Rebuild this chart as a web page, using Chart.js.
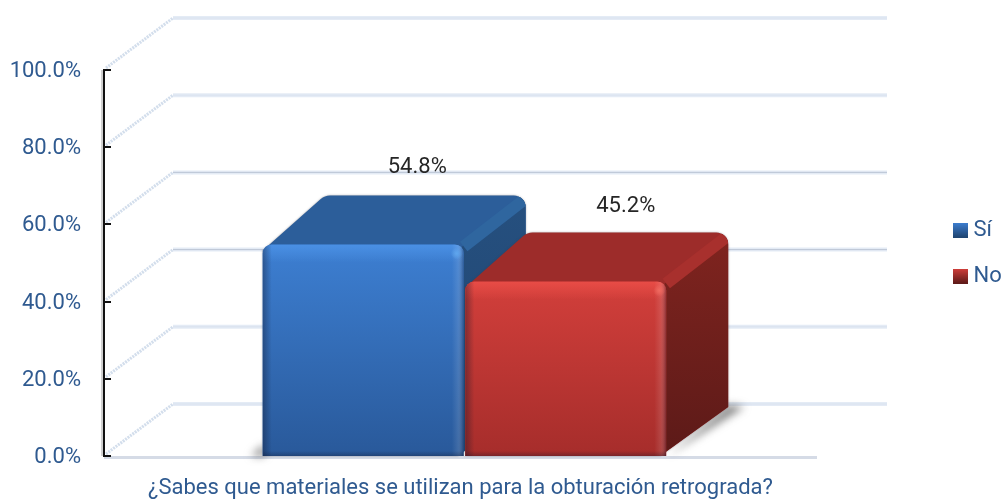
<!DOCTYPE html>
<html>
<head>
<meta charset="utf-8">
<script src="https://cdn.jsdelivr.net/npm/chart.js@4/dist/chart.umd.js"></script>
<style>
  html, body { margin: 0; padding: 0; background: #fff; }
  canvas { display: block; }
</style>
</head>
<body>
<canvas id="barChart" width="1001" height="500"></canvas>
<script>
const categories = ['¿Sabes que materiales se utilizan para la obturación retrograda?'];
const seriesNames = ['Sí', 'No'];
const siValues = [54.8];
const noValues = [45.2];
const tickValues = [0, 20, 40, 60, 80, 100];

const textBlue = '#2f5a90';
const fontName = 'Roboto, "Open Sans", sans-serif';

const faces = [
  { front: ['#3d7fd2', '#29599a'], top: '#2c5e9a', ridge: '#2f669f', side: ['#26507f', '#1f4470'], rim: '#4a90e4', hot: '#5fa6ee', label: [54, -77] },
  { front: ['#d23f3b', '#a62d2b'], top: '#9d2c2a', ridge: '#a8302d', side: ['#80241f', '#5c1a18'], rim: '#e84c46', hot: '#f06a60', label: [60, -75] }
];

// 3d depth of the box and of the back wall
const barDepth = { x: 62, y: 49 };
const wallDepth = { x: 69, y: 52 };
const wallLength = 714;
const floorLength = 713;

function polyPath(c, pts, radii) {
  const n = pts.length;
  c.beginPath();
  c.moveTo((pts[0][0] + pts[n - 1][0]) / 2, (pts[0][1] + pts[n - 1][1]) / 2);
  for (let i = 0; i < n; i++) {
    const next = pts[(i + 1) % n];
    c.arcTo(pts[i][0], pts[i][1], next[0], next[1], radii[i]);
  }
  c.closePath();
}

function flatPoly(c, pts) {
  c.beginPath();
  pts.forEach((p, i) => (i ? c.lineTo(p[0], p[1]) : c.moveTo(p[0], p[1])));
  c.closePath();
}

function vGrad(c, y0, y1, a, b) {
  const g = c.createLinearGradient(0, y0, 0, y1);
  g.addColorStop(0, a);
  g.addColorStop(1, b);
  return g;
}

function hGrad(c, x0, x1, a, b) {
  const g = c.createLinearGradient(x0, 0, x1, 0);
  g.addColorStop(0, a);
  g.addColorStop(1, b);
  return g;
}

function legendSwatch(face) {
  const cv = document.createElement('canvas');
  cv.width = 15;
  cv.height = 15;
  const c = cv.getContext('2d');
  c.fillStyle = vGrad(c, 0, 15, face.front[0], face.side[1]);
  c.fillRect(0, 0, 15, 15);
  return cv;
}

const wallPlugin = {
  id: 'wall',
  beforeLayout(chart) {
    // keep room between the plot and the legend
    const l = chart.legend;
    if (!l._wideFit) {
      const fit = l.fit;
      l.fit = function () { fit.call(this); this.width = 176; };
      l._wideFit = true;
    }
  },
  afterLayout(chart) {
    const l = chart.legend;
    l.left = 934.5;
    l.right = 1001;
    l.top = 195;
    l.bottom = 500;
  },
  beforeDraw(chart) {
    // roboto sits a little high on the middle baseline
    chart.scales.y.getLabelItems().forEach(item => {
      if (!item._moved) {
        item.options.translation[1] += 1.5;
        item._moved = true;
      }
    });
  },
  beforeDatasetsDraw(chart) {
    const c = chart.ctx;
    const area = chart.chartArea;
    const y = chart.scales.y;
    c.save();

    tickValues.forEach(v => {
      const py = y.getPixelForValue(v);
      const bx = area.left + wallDepth.x;
      const by = py - wallDepth.y;
      const grey = v === 40 || v === 60;
      c.strokeStyle = '#d3deec';
      c.lineWidth = 3;
      c.setLineDash([2, 1]);
      c.beginPath();
      c.moveTo(area.left + 2, py - 2);
      c.lineTo(bx, by);
      c.stroke();
      c.setLineDash([]);
      c.strokeStyle = '#e4ebf5';
      c.lineWidth = 4;
      c.beginPath();
      c.moveTo(bx, by);
      c.lineTo(bx + wallLength, by);
      c.stroke();
      c.strokeStyle = grey ? '#bcc6d6' : '#d9e2ef';
      c.lineWidth = 1;
      c.beginPath();
      c.moveTo(bx, by);
      c.lineTo(bx + wallLength, by);
      c.stroke();
    });

    // floor front edge
    const fy = y.getPixelForValue(0);
    c.fillStyle = '#d5dbe6';
    c.fillRect(area.left, fy, floorLength, 3);

    // box side and top, blue first so that red covers it
    chart.data.datasets.forEach((ds, di) => {
      chart.getDatasetMeta(di).data.forEach(el => {
        const face = faces[di];
        const x0 = el.x - el.width / 2;
        const x1 = el.x + el.width / 2;
        const dx = barDepth.x;
        const dy = barDepth.y;

        // floor shadow
        c.save();
        c.filter = 'blur(4px)';
        c.fillStyle = 'rgba(90,90,90,0.75)';
        c.beginPath();
        if (di === 0) {
          c.moveTo(x0 + 2, el.base);
          c.lineTo(x0 - 12, el.base);
          c.lineTo(x0 + 2, el.base - 12);
        } else {
          c.moveTo(x1 + 2, el.base - 1);
          c.lineTo(x1 + dx + 16, el.base - dy);
          c.lineTo(x1 + dx, el.base - dy - 2);
        }
        c.closePath();
        c.fill();
        c.restore();

        // whole outline of the box, rounded at the back corners
        const outline = [[x0, el.y + 6], [x0 + dx, el.y - dy], [x1 + dx, el.y - dy], [x1 + dx, el.base - dy], [x1 - 6, el.base], [x0, el.base]];
        const radii = [0, 14, 12, 0, 0, 0];
        polyPath(c, outline, radii);
        c.save();
        c.fillStyle = face.top;
        c.shadowColor = 'rgba(60,60,70,0.5)';
        c.shadowBlur = 2;
        c.fill();
        c.restore();

        c.save();
        polyPath(c, outline, radii);
        c.clip();
        c.fillStyle = vGrad(c, el.y - dy, el.base, face.side[0], face.side[1]);
        flatPoly(c, [[x1 - 6, el.y + 6], [x1 + dx, el.y - dy - 5], [x1 + dx, el.base - dy], [x1 - 6, el.base]]);
        c.fill();

        // ridge between top and side
        c.strokeStyle = face.ridge;
        c.lineWidth = 12;
        c.beginPath();
        c.moveTo(x1, el.y + 2);
        c.lineTo(x1 + dx, el.y - dy + 3);
        c.stroke();
        c.restore();
      });
    });
    c.restore();
  },
  afterDatasetsDraw(chart) {
    const c = chart.ctx;
    const area = chart.chartArea;
    const y = chart.scales.y;
    c.save();

    chart.data.datasets.forEach((ds, di) => {
      chart.getDatasetMeta(di).data.forEach((el, i) => {
        const face = faces[di];
        const x0 = el.x - el.width / 2;
        const x1 = el.x + el.width / 2;

        // bevels on the front face
        c.save();
        c.beginPath();
        c.roundRect(x0, el.y, el.width, el.base - el.y, [9, 9, 0, 0]);
        c.clip();
        c.fillStyle = vGrad(c, el.y, el.y + 18, face.rim, face.rim + '00');
        c.fillRect(x0, el.y, el.width, 18);
        c.fillStyle = hGrad(c, x0, x0 + 9, 'rgba(15,20,40,0.38)', 'rgba(15,20,40,0)');
        c.fillRect(x0, el.y, 9, el.base - el.y);
        c.fillStyle = hGrad(c, x1 - 12, x1 - 6, 'rgba(255,255,255,0)', 'rgba(255,255,255,0.1)');
        c.fillRect(x1 - 12, el.y, 6, el.base - el.y);
        c.fillStyle = hGrad(c, x1 - 6, x1, 'rgba(255,255,255,0.1)', 'rgba(15,20,40,0.35)');
        c.fillRect(x1 - 6, el.y, 6, el.base - el.y);
        c.fillStyle = vGrad(c, el.base - 5, el.base, 'rgba(15,20,40,0)', 'rgba(15,20,40,0.3)');
        c.fillRect(x0, el.base - 5, el.width, 5);
        const hot = c.createRadialGradient(x1 - 7, el.y + 9, 0, x1 - 7, el.y + 9, 6);
        hot.addColorStop(0, face.hot);
        hot.addColorStop(1, face.hot + '00');
        c.fillStyle = hot;
        c.fillRect(x1 - 14, el.y, 14, 18);
        c.restore();

        // value label above the box
        c.fillStyle = '#262626';
        c.font = '22px ' + fontName;
        c.textAlign = 'center';
        c.textBaseline = 'middle';
        c.fillText(ds.data[i].toFixed(1) + '%', el.x + face.label[0], el.y + face.label[1]);
      });
    });

    // soft edge of the axis and its inward ticks
    c.fillStyle = 'rgba(120,120,120,0.35)';
    c.fillRect(area.left - 3, area.top, 2, area.bottom - area.top);
    c.fillStyle = '#111';
    tickValues.forEach(v => {
      c.fillRect(area.left - 1, Math.round(y.getPixelForValue(v)) - 1, 8, 2);
    });
    c.restore();
  }
};

function frontFill(di) {
  return ctx => {
    const chart = ctx.chart;
    if (!chart.chartArea || ctx.raw === undefined) return faces[di].front[0];
    const y = chart.scales.y;
    return vGrad(chart.ctx, y.getPixelForValue(ctx.raw), y.getPixelForValue(0), faces[di].front[0], faces[di].front[1]);
  };
}

new Chart(document.getElementById('barChart').getContext('2d'), {
  type: 'bar',
  plugins: [wallPlugin],
  data: {
    labels: categories,
    datasets: [
      { label: seriesNames[0], data: siValues, backgroundColor: frontFill(0), borderRadius: { topLeft: 9, topRight: 9 }, borderSkipped: false },
      { label: seriesNames[1], data: noValues, backgroundColor: frontFill(1), borderRadius: { topLeft: 9, topRight: 9 }, borderSkipped: false }
    ]
  },
  options: {
    responsive: false,
    animation: false,
    categoryPercentage: 405 / 721,
    barPercentage: 201 / 202.5,
    layout: { padding: { top: 70, left: 0, right: 0, bottom: 0 } },
    plugins: {
      tooltip: { enabled: false },
      title: { display: false },
      legend: {
        position: 'right',
        align: 'start',
        labels: {
          font: { family: fontName, size: 22 },
          color: textBlue,
          padding: 24,
          usePointStyle: true,
          pointStyleWidth: 4,
          generateLabels: () => seriesNames.map((name, i) => ({
            text: name,
            fontColor: textBlue,
            fillStyle: faces[i].front[0],
            strokeStyle: faces[i].front[0],
            lineWidth: 0,
            pointStyle: legendSwatch(faces[i]),
            datasetIndex: i,
            hidden: false
          }))
        }
      }
    },
    scales: {
      x: {
        grid: { display: false },
        border: { display: false },
        afterFit: s => { s.height = 44; },
        ticks: {
          color: textBlue,
          font: { family: fontName, size: 22 },
          padding: 11,
          labelOffset: -4,
          maxRotation: 0,
          autoSkip: false
        }
      },
      y: {
        min: 0,
        max: 100,
        afterFit: s => { s.width = 104; },
        afterBuildTicks: s => { s.ticks = tickValues.map(v => ({ value: v })); },
        grid: { display: false },
        border: { display: true, color: '#111', width: 2 },
        ticks: {
          color: textBlue,
          font: { family: fontName, size: 22 },
          padding: 15,
          callback: v => v.toFixed(1) + '%'
        }
      }
    }
  }
});
</script>
</body>
</html>
